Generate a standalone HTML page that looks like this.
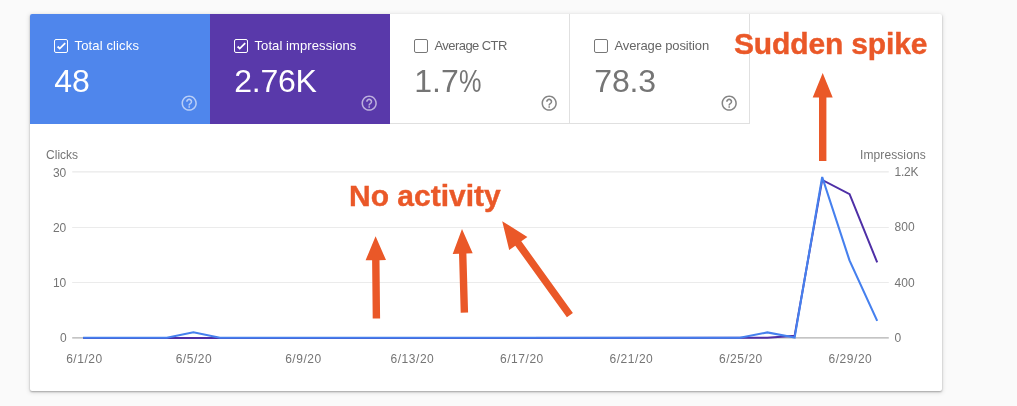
<!DOCTYPE html>
<html><head><meta charset="utf-8">
<style>
html,body{margin:0;padding:0;}
body{width:1017px;height:406px;background:#fafafa;font-family:"Liberation Sans",sans-serif;position:relative;overflow:hidden;}
.card{position:absolute;left:30px;top:14px;width:912px;height:377px;background:#fff;border-radius:2px;box-shadow:0 1px 2px rgba(0,0,0,.3),0 1px 4px 1px rgba(0,0,0,.1);}
.box{position:absolute;top:14px;height:109.75px;width:180px;box-sizing:border-box;}
.b1{left:30px;background:#4f86ec;color:#fff;border-top-left-radius:2px;}
.b2{left:210px;background:#5939aa;color:#fff;}
.b3{left:390px;width:180px;border-right:1px solid #e0e0e0;border-bottom:1px solid #e0e0e0;color:#757575;}
.b4{left:570px;border-right:1px solid #e0e0e0;border-bottom:1px solid #e0e0e0;color:#757575;}
.cb{position:absolute;left:24px;top:25px;width:14px;height:14px;box-sizing:border-box;border:1.6px solid #fff;border-radius:2px;}
.b3 .cb,.b4 .cb{border-color:#777;}
.lab{position:absolute;left:44.5px;top:24px;font-size:13px;line-height:16px;white-space:nowrap;}
.b3 .lab,.b4 .lab{color:#666;}
.val{position:absolute;left:24.3px;top:47.8px;font-size:32px;line-height:38px;transform:translateY(0.3px);white-space:nowrap;}
.help{position:absolute;left:149.7px;top:79.8px;width:18.4px;height:18.4px;}
.ax{position:absolute;font-size:12px;line-height:14px;color:#757575;white-space:nowrap;}
.xl{position:absolute;margin-left:.4px;top:351.8px;width:60px;text-align:center;letter-spacing:.55px;font-size:12px;line-height:14px;color:#757575;white-space:nowrap;}
.ann{position:absolute;-webkit-text-stroke:.4px #ea5828;font-weight:bold;font-size:30px;line-height:34px;color:#ea5828;white-space:nowrap;}
svg{position:absolute;left:0;top:0;}
#w{position:absolute;left:0;top:0;width:1017px;height:406px;will-change:transform;}
</style></head><body><div id="w">
<div class="card"></div>
<div class="box b1"><div class="cb"></div><div class="lab" style="letter-spacing:.14px">Total clicks</div><div class="val">48</div>
<svg class="help" viewBox="0 0 24 24"><path fill="#fff" fill-opacity=".6" d="M11 18h2v-2h-2v2zm1-16C6.48 2 2 6.48 2 12s4.48 10 10 10 10-4.48 10-10S17.52 2 12 2zm0 18c-4.41 0-8-3.59-8-8s3.59-8 8-8 8 3.59 8 8-3.59 8-8 8zm0-14c-2.21 0-4 1.79-4 4h2c0-1.1.9-2 2-2s2 .9 2 2c0 2-3 1.75-3 5h2c0-2.25 3-2.5 3-5 0-2.21-1.79-4-4-4z"/></svg></div>
<div class="box b2"><div class="cb"></div><div class="lab" style="letter-spacing:.09px">Total impressions</div><div class="val" style="letter-spacing:-.25px">2.76K</div>
<svg class="help" viewBox="0 0 24 24"><path fill="#fff" fill-opacity=".6" d="M11 18h2v-2h-2v2zm1-16C6.48 2 2 6.48 2 12s4.48 10 10 10 10-4.48 10-10S17.52 2 12 2zm0 18c-4.41 0-8-3.59-8-8s3.59-8 8-8 8 3.59 8 8-3.59 8-8 8zm0-14c-2.21 0-4 1.79-4 4h2c0-1.1.9-2 2-2s2 .9 2 2c0 2-3 1.75-3 5h2c0-2.25 3-2.5 3-5 0-2.21-1.79-4-4-4z"/></svg></div>
<div class="box b3"><div class="cb"></div><div class="lab" style="letter-spacing:-.57px">Average CTR</div><div class="val">1.7<span style="display:inline-block;transform:scaleX(.79);transform-origin:0 0">%</span></div>
<svg class="help" viewBox="0 0 24 24"><path fill="#858585" d="M11 18h2v-2h-2v2zm1-16C6.48 2 2 6.48 2 12s4.48 10 10 10 10-4.48 10-10S17.52 2 12 2zm0 18c-4.41 0-8-3.59-8-8s3.59-8 8-8 8 3.59 8 8-3.59 8-8 8zm0-14c-2.21 0-4 1.79-4 4h2c0-1.1.9-2 2-2s2 .9 2 2c0 2-3 1.75-3 5h2c0-2.25 3-2.5 3-5 0-2.21-1.79-4-4-4z"/></svg></div>
<div class="box b4"><div class="cb"></div><div class="lab" style="letter-spacing:-.13px">Average position</div><div class="val" style="letter-spacing:-.2px">78.3</div>
<svg class="help" viewBox="0 0 24 24"><path fill="#858585" d="M11 18h2v-2h-2v2zm1-16C6.48 2 2 6.48 2 12s4.48 10 10 10 10-4.48 10-10S17.52 2 12 2zm0 18c-4.41 0-8-3.59-8-8s3.59-8 8-8 8 3.59 8 8-3.59 8-8 8zm0-14c-2.21 0-4 1.79-4 4h2c0-1.1.9-2 2-2s2 .9 2 2c0 2-3 1.75-3 5h2c0-2.25 3-2.5 3-5 0-2.21-1.79-4-4-4z"/></svg></div>

<svg width="1017" height="406" viewBox="0 0 1017 406">
<g stroke="#ebebeb" stroke-width="1">
<line x1="72.2" x2="888.8" y1="171.9" y2="171.9" stroke="#e4e4e4"/>
<line x1="72.2" x2="888.8" y1="227.5" y2="227.5"/>
<line x1="72.2" x2="888.8" y1="282.5" y2="282.5"/>
</g>
<line x1="72.2" x2="888.8" y1="337.8" y2="337.8" stroke="#b0b0b0" stroke-width="1.3"/>
<polyline fill="none" stroke="#4e2fa6" stroke-width="2" stroke-linejoin="miter" points="83.1,338 767.3,337.8 794.6,335.8 822.2,179.9 849.6,194.1 877.2,262.4"/>
<polyline fill="none" stroke="#4680ee" stroke-width="2.1" stroke-linejoin="miter" points="83.1,337.8 166.8,337.8 193.4,332.3 219.9,337.8 740,337.8 767.3,332.4 794.6,337.6 822.2,177.0 849.5,260.4 877.2,320.9"/>
<g fill="#ea5828">
<polygon points="822.7,73.0 812.7,97.5 819.0,97.5 819.0,161.0 826.4,161.0 826.4,97.5 832.7,97.5"/>
<polygon points="375.6,236.2 365.6,260.3 372.1,260.2 372.7,318.5 380.1,318.5 379.5,260.2 386.0,260.1"/>
<polygon points="462.0,229.1 452.7,253.9 459.0,253.7 460.7,312.7 468.1,312.5 466.4,253.5 472.7,253.3"/>
<polygon points="502.2,221.2 509.2,250.1 515.3,245.7 566.9,317.3 572.9,312.9 521.3,241.3 527.4,236.9"/>
</g>
<g fill="none" stroke="#fff" stroke-width="1.8" stroke-linecap="butt" stroke-linejoin="miter">
<path d="M57.6 46.5L59.75 48.6L65.2 43.1"/>
<path d="M237.6 46.5L239.75 48.6L245.2 43.1"/>
</g>
</svg>
<div class="ax" style="left:46.1px;top:148.4px">Clicks</div>
<div class="ax" style="left:52.9px;top:165.5px">30</div>
<div class="ax" style="left:52.9px;top:220.65px">20</div>
<div class="ax" style="left:52.9px;top:275.8px">10</div>
<div class="ax" style="left:59.9px;top:331.2px">0</div>
<div class="ax" style="left:860px;top:148.3px;letter-spacing:.1px">Impressions</div>
<div class="ax" style="left:894.6px;top:165.3px;letter-spacing:-.3px">1.2K</div>
<div class="ax" style="left:894.6px;top:220.3px">800</div>
<div class="ax" style="left:894.6px;top:275.5px">400</div>
<div class="ax" style="left:894.6px;top:331.2px">0</div>
<div class="xl" style="left:54.1px">6/1/20</div>
<div class="xl" style="left:163.6px">6/5/20</div>
<div class="xl" style="left:273.1px">6/9/20</div>
<div class="xl" style="left:382.0px">6/13/20</div>
<div class="xl" style="left:491.5px">6/17/20</div>
<div class="xl" style="left:601.0px">6/21/20</div>
<div class="xl" style="left:710.5px">6/25/20</div>
<div class="xl" style="left:820.0px">6/29/20</div>

<div class="ann" style="left:349px;top:179px">No activity</div>
<div class="ann" style="left:734px;top:27px;letter-spacing:-.15px">Sudden spike</div>
</div></body></html>
